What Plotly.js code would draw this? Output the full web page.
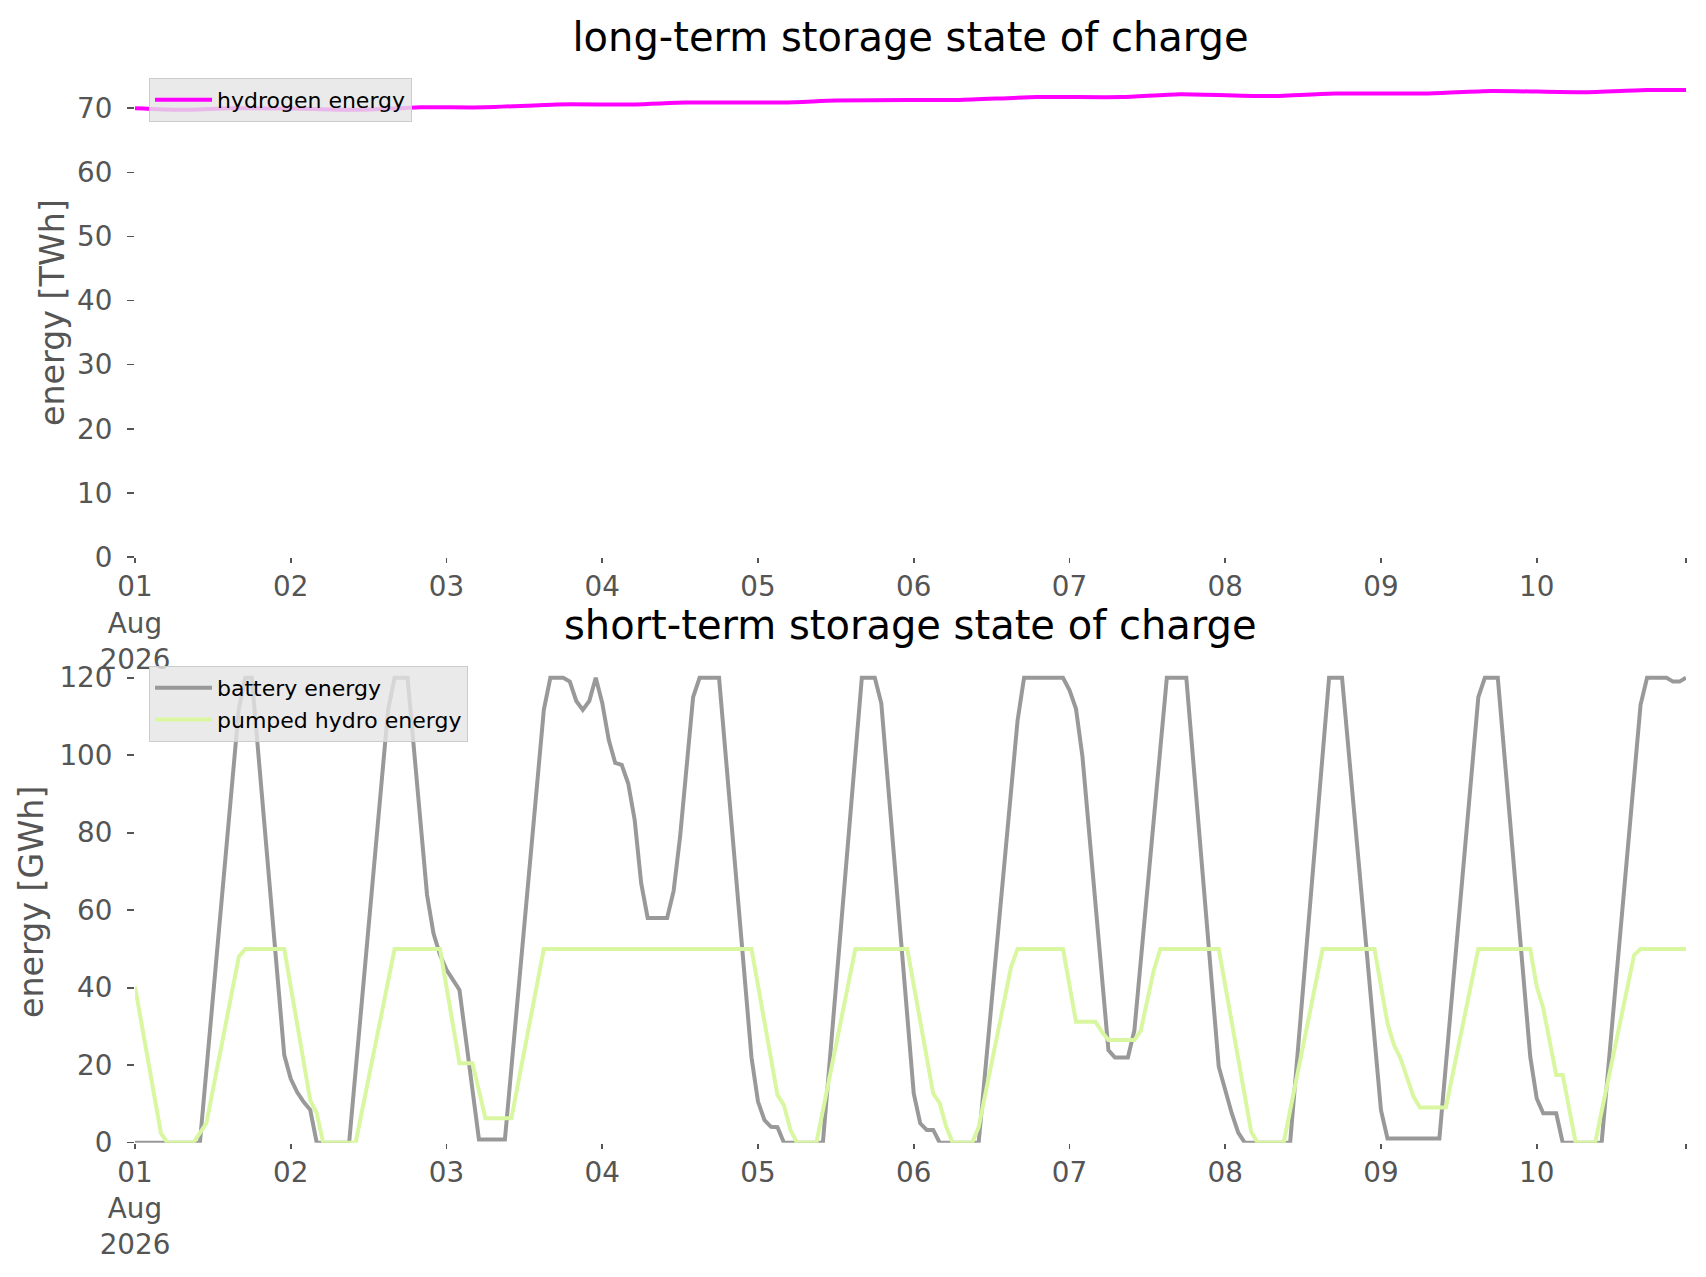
<!DOCTYPE html>
<html>
<head>
<meta charset="utf-8">
<script src="https://cdn.plot.ly/plotly-3.0.1.min.js"></script>
<style>html,body{margin:0;padding:0;background:#fff;}#chart{width:1706px;height:1277px;}</style>
</head>
<body>
<div id="chart"></div>
<script>
// ---- data (hours after 2026-08-01 00:00) ----
const h2Hours = [0,7,15,24,33,41,44,54,65,77,85,100,108,119,127,139,152,161,175,185,199,209,223,233,239];
const h2Values = [70.0,69.75,70.0,69.95,69.75,70.0,70.15,70.15,70.6,70.6,70.9,70.9,71.2,71.3,71.3,71.75,71.75,72.2,71.9,72.3,72.3,72.7,72.5,72.85,72.85];

const batteryHours = [0,10,16,17,18,23,24,25,26,27,28,33,39,40,42,45,46,47,48,49,50,53,57,63,64,66,67,68,69,70,71,72,73,74,75,76,77,78,79,82,83,84,86,87,90,95,96,97,98,99,100,106,112,114,115,120,121,122,123,124,130,136,137,143,144,145,146,150,151,153,154,159,162,167,168,169,170,171,178,184,186,192,193,201,207,208,210,215,216,217,219,220,226,232,233,236,237,238,239];
const batteryValues = [0,0,112,120,120,22.6,16.5,13,10.5,8.5,0,0,111.7,120,120,64,54,48.5,44.6,42,39.4,0.8,0.8,111.7,120,120,119,114,111.7,114,120,113.5,104,98,97.5,92.7,83.3,67,58,58,65,79,115,120,120,22,10.6,5.8,4.1,4,0,0,120,120,113.4,12.7,5,3.3,3.3,0,0,109,120,120,116.8,112,99.6,23.9,22,22,29,120,120,19.6,13.6,7.6,2.6,0,0,120,120,8.4,1.1,1.1,115,120,120,22.2,11.4,7.6,7.6,0,0,113,120,120,119,119,120];

const phsHours = [0,4,5,9,11,16,17,23,27,28,29,34,40,47,50,52,54,58,63,95,99,100,101,102,105,111,119,123,124,125,126,129,130,135,136,143,145,148,149,150,154,155,157,158,167,172,173,177,183,191,193,194,195,196,197,198,202,207,215,216,217,219,220,222,225,231,232,239];
const phsValues = [40.3,2.4,0,0,5,48,50,50,11,7.6,0,0,50,50,20.5,20.5,6.3,6.3,50,50,12.3,9.7,3.3,0,0,50,50,12.7,10.2,4.1,0,0,4,45.4,50,50,31.2,31.2,28.6,26.5,26.5,29,44.6,50,50,2.8,0,0,50,50,30.8,25.2,21.8,17,11.9,9.1,9.1,50,50,40.3,34.7,17.5,17.5,0,0,48.4,50,50];

const dayTicks = ["2026-08-01","2026-08-02","2026-08-03","2026-08-04","2026-08-05","2026-08-06","2026-08-07","2026-08-08","2026-08-09","2026-08-10","2026-08-10 23:00"];
const dayTickLabels = ["01<br>Aug<br>2026","02","03","04","05","06","07","08","09","10",""];
const topYTicks = [0,10,20,30,40,50,60,70];
const bottomYTicks = [0,20,40,60,80,100,120];

// ---- helpers ----
const START = Date.UTC(2026,7,1,0,0,0);
function ts(h){ return new Date(START + h*3600000).toISOString().slice(0,16).replace('T',' '); }

const W = 1706, H = 1277;
const px = v => v / W;
const py = v => 1 - v / H;
const FONT = "DejaVu Sans";
const TICKC = "#555555";

const traces = [
  {x: h2Hours.map(ts), y: h2Values, type:"scatter", mode:"lines", name:"hydrogen energy",
   line:{color:"#ff00ff", width:4, shape:"spline", smoothing:0.6}, xaxis:"x", yaxis:"y", legend:"legend"},
  {x: batteryHours.map(ts), y: batteryValues, type:"scatter", mode:"lines", name:"battery energy",
   line:{color:"#999999", width:4}, xaxis:"x2", yaxis:"y2", legend:"legend2"},
  {x: phsHours.map(ts), y: phsValues, type:"scatter", mode:"lines", name:"pumped hydro energy",
   line:{color:"#d9f7a1", width:4}, xaxis:"x2", yaxis:"y2", legend:"legend2"}
];

function xax(anchor){
  return {type:"date", domain:[px(135), px(1686)], range:[ts(0), ts(239)], anchor:anchor,
    tickmode:"array", tickvals:dayTicks, ticktext:dayTickLabels,
    ticks:"outside", ticklen:5, tickwidth:1.6, tickcolor:TICKC, ticklabelstandoff:0,
    tickfont:{family:FONT, size:27.8, color:TICKC},
    showgrid:false, zeroline:false, showline:false, automargin:false, fixedrange:true};
}
function yax(anchor, dom, rng, tv){
  return {domain:dom, range:rng, anchor:anchor, tickmode:"array", tickvals:tv,
    ticks:"outside", ticklen:7, tickwidth:1.6, tickcolor:TICKC, ticklabelstandoff:9,
    tickfont:{family:FONT, size:27.8, color:TICKC},
    showgrid:false, zeroline:false, showline:false, automargin:false, fixedrange:true};
}

const layout = {
  width:W, height:H, margin:{l:0,r:0,t:0,b:0},
  paper_bgcolor:"#ffffff", plot_bgcolor:"#ffffff",
  font:{family:FONT},
  title:{text:"long-term storage state of charge", x:px(910.5), xref:"paper", xanchor:"center",
         y:py(37), yref:"container", yanchor:"middle", font:{family:FONT, size:40, color:"#000000"}},
  xaxis: xax("y"),
  yaxis: yax("x", [py(557), py(66.6)], [0, 76.5], topYTicks),
  xaxis2: xax("y2"),
  yaxis2: yax("x2", [py(1142.7), py(654.5)], [0, 126], bottomYTicks),
  legend:{x:px(149), y:py(78), xanchor:"left", yanchor:"top", bgcolor:"rgba(229,229,229,0.8)",
          bordercolor:"#cccccc", borderwidth:1, font:{family:FONT, size:22, color:"#000000"}, itemwidth:57},
  legend2:{x:px(149), y:py(666), xanchor:"left", yanchor:"top", bgcolor:"rgba(229,229,229,0.8)",
          bordercolor:"#cccccc", borderwidth:1, font:{family:FONT, size:22, color:"#000000"}, itemwidth:57, tracegroupgap:0},
  annotations:[
    {text:"short-term storage state of charge", xref:"paper", yref:"paper", x:px(910.5), y:py(625),
     xanchor:"center", yanchor:"middle", showarrow:false, font:{family:FONT, size:40, color:"#000000"}},
    {text:"energy [TWh]", xref:"paper", yref:"paper", x:px(53), y:py(313), textangle:-90,
     xanchor:"center", yanchor:"middle", showarrow:false, font:{family:FONT, size:33.3, color:TICKC}},
    {text:"energy [GWh]", xref:"paper", yref:"paper", x:px(31), y:py(902), textangle:-90,
     xanchor:"center", yanchor:"middle", showarrow:false, font:{family:FONT, size:33.3, color:TICKC}}
  ],
  showlegend:true
};

Plotly.newPlot("chart", traces, layout, {staticPlot:true, displayModeBar:false});
</script>
</body>
</html>
